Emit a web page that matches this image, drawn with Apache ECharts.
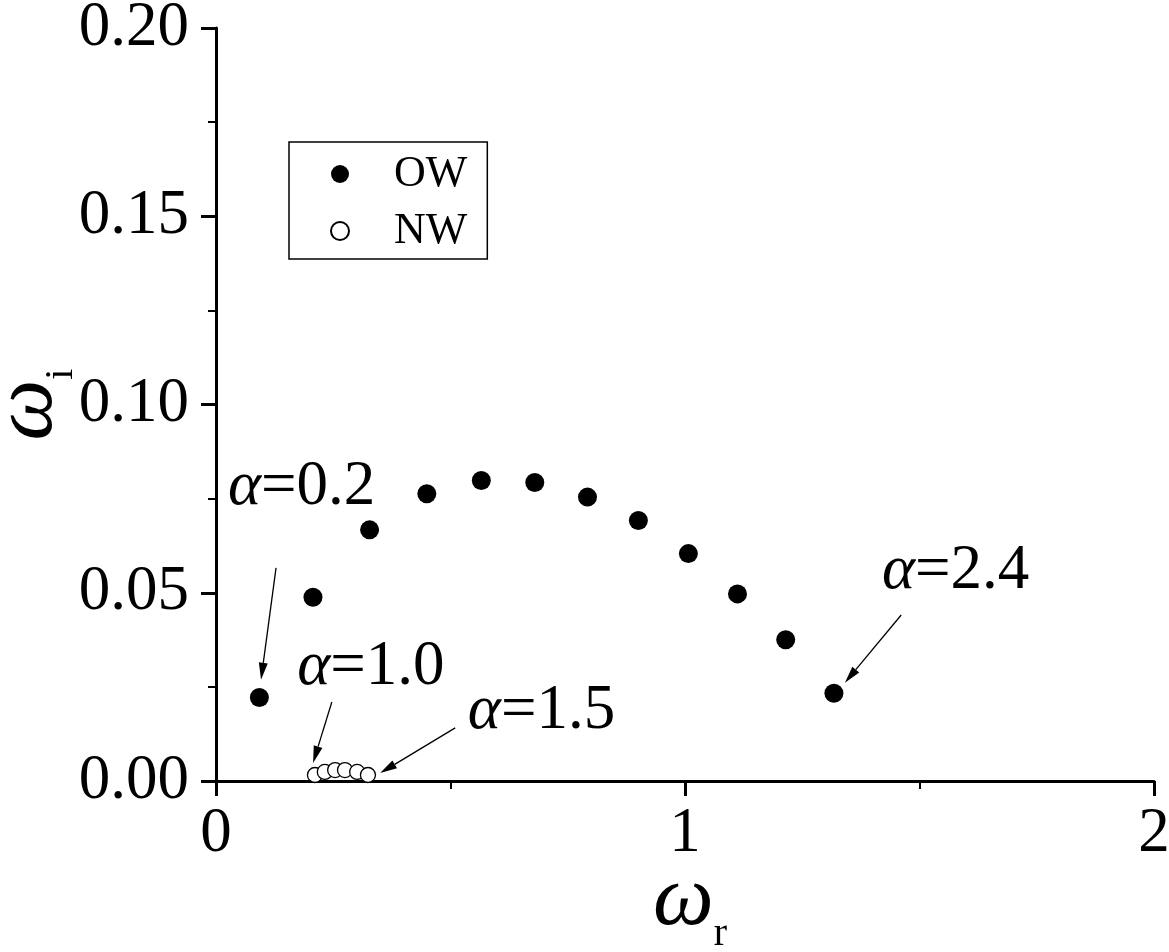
<!DOCTYPE html>
<html>
<head>
<meta charset="utf-8">
<script src="https://cdn.jsdelivr.net/npm/echarts@6/dist/echarts.min.js"></script>
<style>html,body{margin:0;padding:0;background:#fff}#c{width:1169px;height:952px}</style>
</head>
<body>
<div id="c"></div>
<script>
// ---- data ----
const owX = [0.0925, 0.2068, 0.3275, 0.4495, 0.5657, 0.6797, 0.7921, 0.9006, 1.0072, 1.1119, 1.2147, 1.3175];
const owY = [0.0222, 0.0488, 0.0667, 0.0763, 0.0798, 0.0793, 0.0754, 0.0692, 0.0604, 0.0497, 0.0375, 0.0233];
const nwX = [0.211, 0.232, 0.254, 0.275, 0.301, 0.324];
const nwY = [0.0016, 0.0024, 0.0029, 0.0029, 0.0024, 0.0016];
const seriesNames = ['OW', 'NW'];
const xTicks = [0, 1, 2];
const yTicks = [0.00, 0.05, 0.10, 0.15, 0.20];
// annotations: label value, text anchor (data coords), arrow tail, arrow tip (data coords)
const annLabels = ['0.2', '1.0', '1.5', '2.4'];
const annText = [[0.0256, 0.0779], [0.173, 0.0301], [0.537, 0.0184], [1.420, 0.0556]];
const annTail = [[0.128, 0.0566], [0.247, 0.0210], [0.510, 0.0141], [1.461, 0.0441]];
const annTip = [[0.096, 0.0269], [0.207, 0.0048], [0.350, 0.0021], [1.341, 0.0261]];

const FF = 'Liberation Serif';
const GF = "'Liberation Serif','DejaVu Serif',serif";
const chart = echarts.init(document.getElementById('c'), null, {renderer: 'canvas'});

const nameRich = {
  w: {fontFamily: GF, fontStyle: 'italic', fontSize: 86, color: '#000', lineHeight: 86, verticalAlign: 'top'},
  s: {fontFamily: FF, fontSize: 40, color: '#000', lineHeight: 40, verticalAlign: 'top', padding: [56, 0, 0, 0]}
};

const option = {
  backgroundColor: '#fff',
  animation: false,
  grid: {left: 216, right: 15, top: 28, bottom: 171, containLabel: false, outerBoundsMode: 'none'},
  legend: {
    data: seriesNames,
    orient: 'vertical',
    left: 289, top: 142,
    padding: [10, 20, 6, 41],
    itemGap: 13,
    itemWidth: 18, itemHeight: 18,
    borderColor: '#000', borderWidth: 1.5,
    backgroundColor: '#fff',
    textStyle: {fontFamily: FF, fontSize: 44, color: '#000', lineHeight: 44, padding: [0, 0, 0, 40]}
  },
  xAxis: {
    type: 'value', min: xTicks[0], max: xTicks[xTicks.length - 1], interval: 1,
    axisLine: {show: true, onZero: false, lineStyle: {color: '#000', width: 3}},
    axisTick: {show: true, length: 15, lineStyle: {color: '#000', width: 3}},
    minorTick: {show: true, splitNumber: 2, length: 8, lineStyle: {color: '#000', width: 2}},
    splitLine: {show: false},
    axisLabel: {fontFamily: FF, fontSize: 63, color: '#000', margin: 22, formatter: v => String(v)},
    name: '{w|ω}{s|r}',
    nameLocation: 'middle',
    nameGap: 77,
    nameMoveOverlap: false,
    nameTextStyle: {rich: nameRich, padding: [0, 0, 0, 10]}
  },
  yAxis: {
    type: 'value', min: yTicks[0], max: yTicks[yTicks.length - 1], interval: 0.05,
    axisLine: {show: true, onZero: false, lineStyle: {color: '#000', width: 3}},
    axisTick: {show: true, length: 15, lineStyle: {color: '#000', width: 3}},
    minorTick: {show: true, splitNumber: 2, length: 8, lineStyle: {color: '#000', width: 2}},
    splitLine: {show: false},
    axisLabel: {fontFamily: FF, fontSize: 63, color: '#000', margin: 27, formatter: v => v.toFixed(2)},
    name: '{w|ω}{s|i}',
    nameLocation: 'middle',
    nameRotate: 90,
    nameGap: 145,
    nameMoveOverlap: false,
    nameTextStyle: {rich: nameRich}
  },
  series: [
    {
      name: seriesNames[0], type: 'scatter', symbol: 'circle', symbolSize: 19,
      itemStyle: {color: '#000', opacity: 1},
      data: owX.map((x, i) => [x, owY[i]])
    },
    {
      name: seriesNames[1], type: 'scatter', symbol: 'circle', symbolSize: 15,
      itemStyle: {color: '#fff', borderColor: '#000', borderWidth: 1.3, opacity: 1},
      data: nwX.map((x, i) => [x, nwY[i]])
    }
  ]
};
chart.setOption(option);

function toPx(p) { return chart.convertToPixel({gridIndex: 0}, p); }
const graphics = [];
annLabels.forEach((lab, i) => {
  const t = toPx(annText[i]);
  graphics.push({
    type: 'text', x: t[0], y: t[1], z: 100,
    style: {
      text: '{a|α}{b|=' + lab + '}',
      align: 'left', verticalAlign: 'middle',
      rich: {
        a: {fontFamily: FF, fontStyle: 'italic', fontSize: 63, fill: '#000'},
        b: {fontFamily: FF, fontSize: 63, fill: '#000'}
      }
    }
  });
  const a = toPx(annTail[i]), b = toPx(annTip[i]);
  const dx = b[0] - a[0], dy = b[1] - a[1];
  const len = Math.sqrt(dx * dx + dy * dy);
  const ux = dx / len, uy = dy / len;
  const hl = 17, hw = 4.5;
  const bx = b[0] - ux * hl, by = b[1] - uy * hl;
  graphics.push({
    type: 'line', z: 100,
    shape: {x1: a[0], y1: a[1], x2: bx, y2: by},
    style: {stroke: '#000', lineWidth: 1.3}
  });
  graphics.push({
    type: 'polygon', z: 100,
    shape: {points: [[b[0], b[1]], [bx - uy * hw, by + ux * hw], [bx + uy * hw, by - ux * hw]]},
    style: {fill: '#000'}
  });
});
chart.setOption({graphic: graphics});
</script>
</body>
</html>
